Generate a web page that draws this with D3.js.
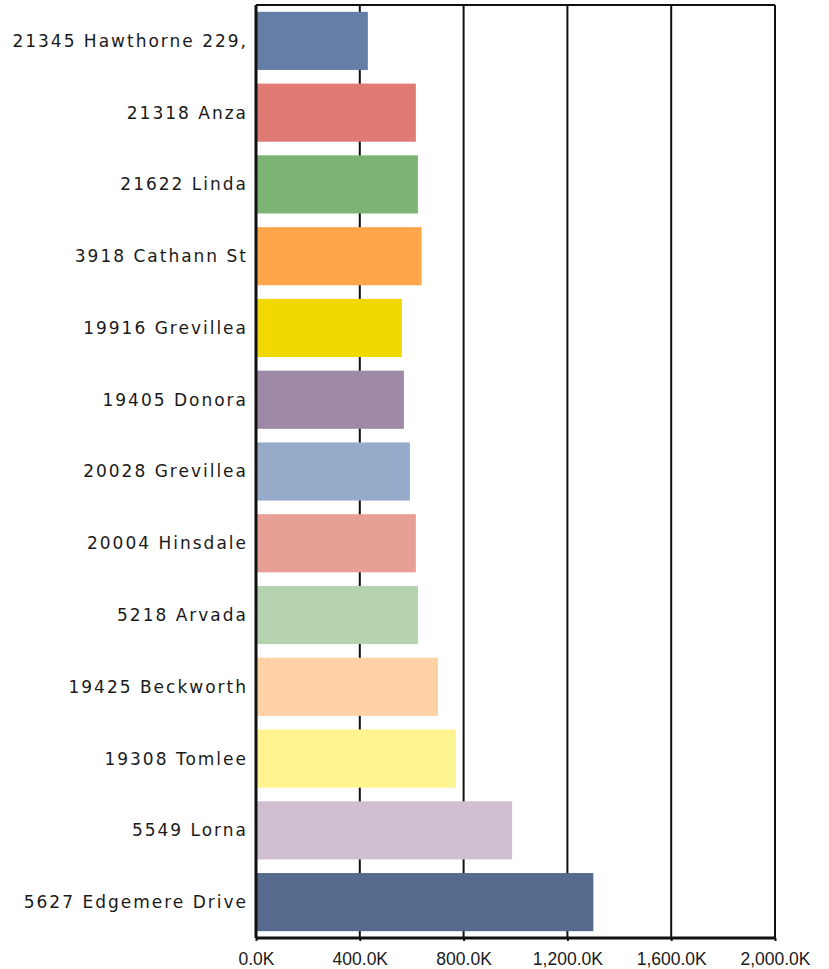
<!DOCTYPE html>
<html>
<head>
<meta charset="utf-8">
<script src="https://cdn.jsdelivr.net/npm/d3@7"></script>
<style>
	body { margin: 0; background: #fff; }
	.cat text { font-family: "DejaVu Sans", Verdana, sans-serif; font-size: 17px; letter-spacing: 2px; fill: #1a1a1a; }
	.x.axis text { font-family: "Liberation Sans", Arial, sans-serif; font-size: 17.5px; fill: #1a1a1a; }
</style>
</head>
<body>
<div id="chart"></div>
<script>
var categories = ["21345 Hawthorne 229,", "21318 Anza", "21622 Linda", "3918 Cathann St", "19916 Grevillea",
	"19405 Donora", "20028 Grevillea", "20004 Hinsdale", "5218 Arvada", "19425 Beckworth",
	"19308 Tomlee", "5549 Lorna", "5627 Edgemere Drive"];
var values = [431, 616, 624, 638, 562, 570, 593, 616, 624, 701, 770, 987, 1300];
var colors = ["#647ea6", "#e07a74", "#7db374", "#ffa64d", "#f0d800", "#9e8aa6", "#96abc9",
	"#e8a096", "#b5d3ae", "#ffd2a6", "#fff48f", "#cfbfd1", "#556a8c"];
var xTicks = [0, 400, 800, 1200, 1600, 2000];

var margin = {top: 5, right: 54, bottom: 31, left: 256},
	width = 829 - margin.left - margin.right,
	height = 969 - margin.top - margin.bottom;

var x = d3.scaleLinear().domain([0, 2000]).range([0, width]);
var y = d3.scaleBand().domain(categories).range([0, height]).paddingInner(0.19).paddingOuter(0.095);
var colorScale = d3.scaleOrdinal().domain(categories).range(colors);

var svg = d3.select("#chart")
	.append("svg")
	.attr("width", 829)
	.attr("height", 969)
	.append("g")
	.attr("transform", "translate(" + margin.left + "," + margin.top + ")");

// gridlines
svg.append("g")
	.selectAll("line")
	.data(xTicks)
	.enter()
	.append("line")
	.attr("x1", function(d) { return x(d); })
	.attr("x2", function(d) { return x(d); })
	.attr("y1", 0)
	.attr("y2", height)
	.attr("stroke", "#111")
	.attr("stroke-width", 2);

svg.append("line")
	.attr("x1", 0).attr("x2", width)
	.attr("y1", 0).attr("y2", 0)
	.attr("stroke", "#111")
	.attr("stroke-width", 2);

svg.selectAll(".bar")
	.data(categories)
	.enter()
	.append("rect")
	.attr("class", "bar")
	.attr("x", x(0))
	.attr("y", function(d) { return y(d); })
	.attr("width", function(d, i) { return x(values[i]) - x(0); })
	.attr("height", y.bandwidth())
	.attr("fill", function(d) { return colorScale(d); });

// category labels
svg.append("g")
	.attr("class", "cat")
	.selectAll("text")
	.data(categories)
	.enter()
	.append("text")
	.attr("x", -8)
	.attr("y", function(d) { return y(d) + y.bandwidth() / 2; })
	.attr("dy", "0.35em")
	.attr("text-anchor", "end")
	.text(function(d) { return d; });

var xAxis = svg.append("g")
	.attr("class", "x axis")
	.attr("transform", "translate(0," + height + ")")
	.call(d3.axisBottom(x).tickValues(xTicks).tickSize(3).tickPadding(12)
		.tickFormat(function(d) { return d3.format(",.1f")(d) + "K"; }));
xAxis.select(".domain").attr("stroke", "#111").attr("stroke-width", 3).attr("d", "M0,0H" + width);
xAxis.selectAll(".tick line").attr("stroke", "#111").attr("stroke-width", 2);

svg.append("line")
	.attr("x1", 0).attr("x2", 0)
	.attr("y1", 0).attr("y2", height)
	.attr("stroke", "#111")
	.attr("stroke-width", 3);
</script>
</body>
</html>
